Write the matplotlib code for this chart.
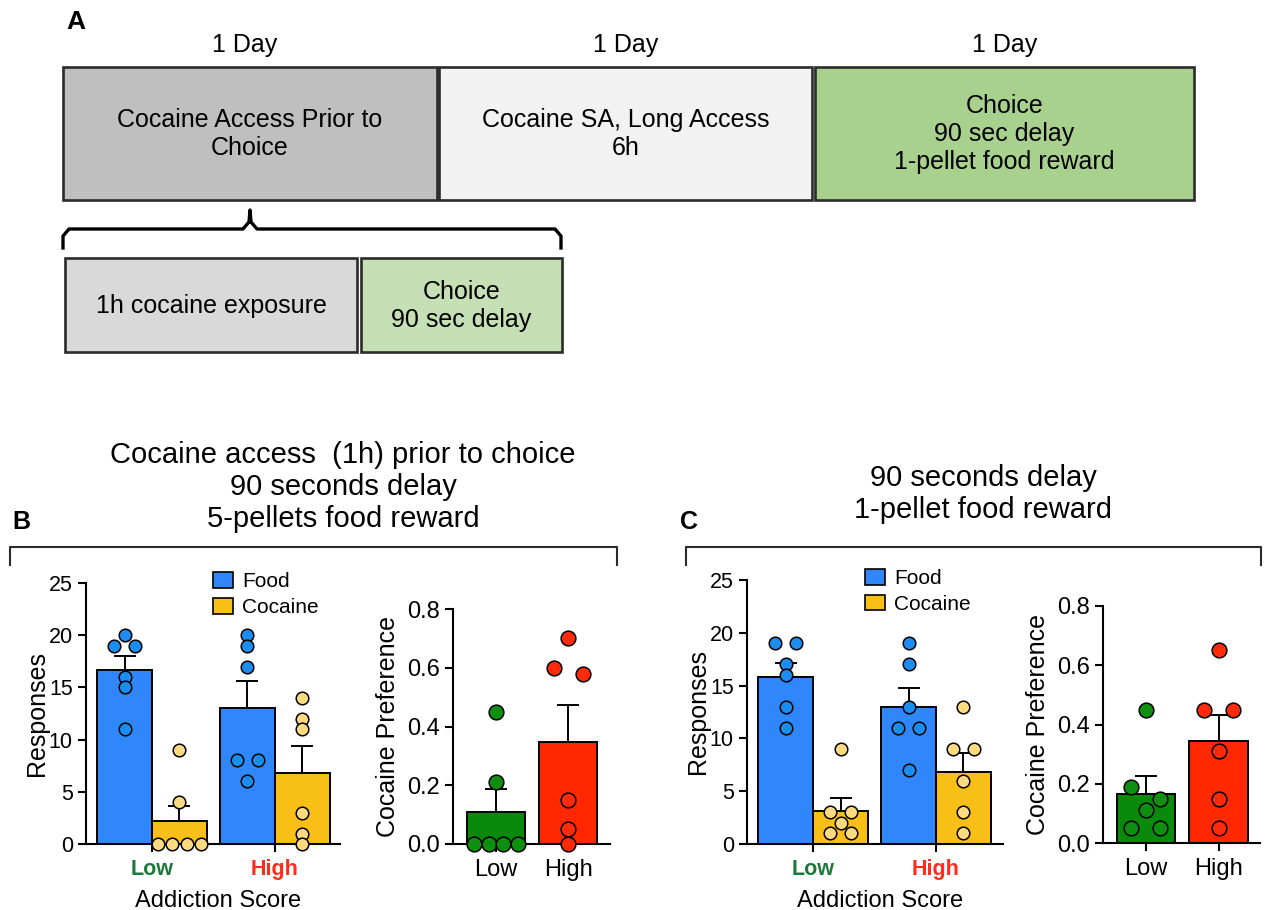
import numpy as np
import matplotlib
matplotlib.use("Agg")
import matplotlib.pyplot as plt
from matplotlib.patches import Rectangle, Patch

plt.rcParams['font.family'] = ['Liberation Sans', 'DejaVu Sans']

# ---- data ----
groups = ["Low", "High"]
series = ["Food", "Cocaine"]

# panel B: cocaine access (1h) prior to choice, 5-pellets
b_food = [[20, 19, 19, 16, 15, 11], [20, 19, 17, 8, 8, 6]]
b_coc = [[9, 4, 0, 0, 0, 0], [14, 12, 11, 3, 1, 0]]
b_pref = [[0.45, 0.21, 0, 0, 0, 0], [0.70, 0.60, 0.58, 0.15, 0.05, 0.0]]

# panel C: 90 s delay, 1-pellet
c_food = [[19, 19, 17, 16, 13, 11], [19, 17, 13, 11, 11, 7]]
c_coc = [[9, 3, 3, 2, 1, 1], [13, 9, 9, 6, 3, 1]]
c_pref = [[0.45, 0.19, 0.15, 0.11, 0.05, 0.05], [0.65, 0.45, 0.45, 0.31, 0.15, 0.05]]

resp_ticks = [0, 5, 10, 15, 20, 25]
pref_ticks = [0.0, 0.2, 0.4, 0.6, 0.8]

# schematic text
day_label = "1 Day"
top_boxes = ["Cocaine Access Prior to\nChoice", "Cocaine SA, Long Access\n6h",
             "Choice\n90 sec delay\n1-pellet food reward"]
sub_boxes = ["1h cocaine exposure", "Choice\n90 sec delay"]
title_b = "Cocaine access  (1h) prior to choice\n90 seconds delay\n5-pellets food reward"
title_c = "90 seconds delay\n1-pellet food reward"

# colours
FOOD_BAR, FOOD_DOT = "#3087fb", "#1b8df0"
COC_BAR, COC_DOT = "#f8c016", "#fdd97f"
LOW_BAR, LOW_DOT = "#0a8a0a", "#0f8f0f"
HIGH_BAR, HIGH_DOT = "#ff2800", "#ff2a0a"
LOW_TXT, HIGH_TXT = "#1b7a3a", "#ff2b1c"
EDGE = "#2b2b2b"


def swarm(vals, tol, bar_w, dot_w, smax):
    vals = np.asarray(vals, dtype=float)
    order = np.argsort(-vals, kind="stable")
    rows = []
    for i in order:
        if rows and vals[rows[-1][0]] - vals[i] <= tol:
            rows[-1].append(i)
        else:
            rows.append([i])
    off = np.zeros(len(vals))
    for row in rows:
        n = len(row)
        if n > 1:
            s = min(smax, (bar_w - dot_w) / (n - 1))
            for k, i in enumerate(row):
                off[i] = (k - (n - 1) / 2) * s
    return off


def bar_with_dots(ax, x, vals, bw, bar_c, dot_c, tol, dot_w, smax, msize):
    v = np.asarray(vals, dtype=float)
    m = v.mean()
    sem = v.std(ddof=1) / np.sqrt(len(v))
    ax.bar(x, m, width=bw, color=bar_c, edgecolor="black", linewidth=1.4, zorder=2)
    ax.errorbar(x, m, yerr=[[0], [sem]], fmt="none", ecolor="black",
                elinewidth=1.4, capsize=8, capthick=1.4, zorder=3)
    ax.scatter(x + swarm(v, tol, bw, dot_w, smax), v, s=msize, color=dot_c,
               edgecolor="black", linewidth=1.1, zorder=4, clip_on=False)


def style_axes(ax):
    for sp in ["top", "right"]:
        ax.spines[sp].set_visible(False)
    for sp in ["left", "bottom"]:
        ax.spines[sp].set_linewidth(1.5)
    ax.tick_params(axis="both", width=1.5, length=6, direction="out")


def responses_panel(ax, food, coc, xlim, leg_anchor):
    bw = 0.447
    for gi in range(len(groups)):
        bar_with_dots(ax, gi - bw / 2, food[gi], bw, FOOD_BAR, FOOD_DOT, 0.5, 0.1, 0.171, 82)
        bar_with_dots(ax, gi + bw / 2, coc[gi], bw, COC_BAR, COC_DOT, 0.5, 0.1, 0.171, 82)
    ax.set_xlim(*xlim)
    ax.set_ylim(0, 25)
    ax.set_yticks(resp_ticks)
    ax.set_yticklabels([str(t) for t in resp_ticks], fontsize=15.5)
    ax.set_xticks(range(len(groups)))
    ax.set_xticklabels(groups, fontsize=15.5, fontweight="bold")
    for lab, col in zip(ax.get_xticklabels(), [LOW_TXT, HIGH_TXT]):
        lab.set_color(col)
    ax.set_ylabel("Responses", fontsize=18, labelpad=0)
    ax.set_xlabel("Addiction Score", fontsize=17, labelpad=7, x=0.52)
    style_axes(ax)
    ax.tick_params(axis="x", pad=5)
    handles = [Patch(facecolor=FOOD_BAR, edgecolor="black", linewidth=1.2, label=series[0]),
               Patch(facecolor=COC_BAR, edgecolor="black", linewidth=1.2, label=series[1])]
    ax.legend(handles=handles, loc="upper left", bbox_to_anchor=leg_anchor, frameon=False,
              fontsize=15, borderpad=0, borderaxespad=0, handlelength=0.95, handleheight=0.8,
              handletextpad=0.45, labelspacing=0.32)


def pref_panel(ax, pref, xlim):
    bw = 0.8
    for gi, (bc, dc) in enumerate([(LOW_BAR, LOW_DOT), (HIGH_BAR, HIGH_DOT)]):
        bar_with_dots(ax, gi, pref[gi], bw, bc, dc, 0.045, 0.194, 0.397, 112)
    ax.set_xlim(*xlim)
    ax.set_ylim(0, 0.8)
    ax.set_yticks(pref_ticks)
    ax.set_yticklabels(["%.1f" % t for t in pref_ticks], fontsize=17)
    ax.set_xticks(range(len(groups)))
    ax.set_xticklabels(groups, fontsize=17)
    ax.set_ylabel("Cocaine Preference", fontsize=18, labelpad=5)
    style_axes(ax)
    ax.tick_params(axis="x", pad=5)


W, H = 1268, 910
fig = plt.figure(figsize=(W / 100, H / 100), dpi=100)

# overlay in pixel coordinates for the schematic, labels and brackets
ov = fig.add_axes([0, 0, 1, 1])
ov.set_xlim(0, W)
ov.set_ylim(H, 0)
ov.axis("off")

top_x = [(63, 437), (439, 812), (815, 1194)]
top_cols = ["#bfbfbf", "#f2f2f2", "#a9d18e"]
day_shift = [-5, 0, 0]
for (x0, x1), col, txt, dx in zip(top_x, top_cols, top_boxes, day_shift):
    ov.add_patch(Rectangle((x0, 67), x1 - x0, 133, facecolor=col, edgecolor=EDGE, linewidth=1.9))
    ov.text((x0 + x1) / 2, 134, txt, ha="center", va="center", fontsize=18, linespacing=1.2)
    ov.text((x0 + x1) / 2 + dx, 45, day_label, ha="center", va="center", fontsize=18)

sub_x = [(65, 357), (361, 562)]
sub_cols = ["#d9d9d9", "#c5e0b4"]
for (x0, x1), col, txt in zip(sub_x, sub_cols, sub_boxes):
    ov.add_patch(Rectangle((x0, 258), x1 - x0, 94, facecolor=col, edgecolor=EDGE, linewidth=1.9))
    ov.text((x0 + x1) / 2, 306, txt, ha="center", va="center", fontsize=18, linespacing=1.2)

# curly brace under the first box
bx = [63, 63, 69, 243, 249, 250, 251, 257, 555, 561, 561]
by = [248, 236, 229, 229, 222, 210, 222, 229, 229, 236, 248]
ov.plot(bx, by, color="black", linewidth=2.4, solid_joinstyle="round")

ov.text(66, 22, "A", fontsize=19, fontweight="bold", ha="left", va="center")
ov.text(12, 522, "B", fontsize=18, fontweight="bold", ha="left", va="center")
ov.text(680, 522, "C", fontsize=18, fontweight="bold", ha="left", va="center")

ov.text(343, 487, title_b, ha="center", va="center", fontsize=21, linespacing=1.2)
ov.text(983, 494, title_c, ha="center", va="center", fontsize=21, linespacing=1.2)

for x0, x1 in [(10, 617), (686, 1261)]:
    ov.plot([x0, x0, x1, x1], [565, 547, 547, 565], color=EDGE, linewidth=1.5)

# data panels
ax_b1 = fig.add_axes([86 / W, 1 - 844 / H, 254 / W, 261 / H])
ax_b2 = fig.add_axes([453 / W, 1 - 844 / H, 157 / W, 235 / H])
ax_c1 = fig.add_axes([747 / W, 1 - 844 / H, 256 / W, 264 / H])
ax_c2 = fig.add_axes([1103 / W, 1 - 843 / H, 157 / W, 237 / H])

responses_panel(ax_b1, b_food, b_coc, (-0.537, 1.53), (0.5, 1.043))
pref_panel(ax_b2, b_pref, (-0.6, 1.58))
responses_panel(ax_c1, c_food, c_coc, (-0.537, 1.545), (0.46, 1.043))
pref_panel(ax_c2, c_pref, (-0.59, 1.57))

fig.savefig("out.png", dpi=100)
